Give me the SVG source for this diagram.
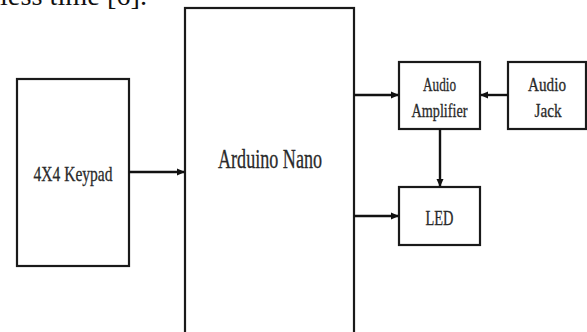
<svg xmlns="http://www.w3.org/2000/svg" width="587" height="332" viewBox="0 0 587 332">
<style>
.box{fill:#fff;stroke:#1a1a1a;stroke-width:2.2}
.lbl{font-family:"Liberation Serif","Times New Roman",serif;fill:#2a2a2a;stroke:#2a2a2a;stroke-width:0.3;text-anchor:middle}
.cn{stroke:#111;stroke-width:2.4;fill:none;marker-end:url(#ah)}
</style>
<defs>
<marker id="ah" viewBox="0 0 8 8" refX="7" refY="4" markerWidth="8" markerHeight="8" markerUnits="userSpaceOnUse" orient="auto">
<path d="M0,0.5 L8,4 L0,7.5 Z" fill="#111"/>
</marker>
</defs>
<rect width="587" height="332" fill="#fff"/>
<text x="0" y="5" font-family="Liberation Serif, Times New Roman, serif" font-size="28" fill="#111" textLength="147" lengthAdjust="spacingAndGlyphs">less time [6].</text>
<g id="keypad">
<rect class="box" x="17" y="79" width="112" height="187"/>
<text class="lbl" x="73" y="180.5" font-size="21.5" textLength="79" lengthAdjust="spacingAndGlyphs">4X4 Keypad</text>
</g>
<g id="arduino">
<rect class="box" x="185" y="8" width="169" height="340"/>
<text class="lbl" x="270" y="168" font-size="27" textLength="104" lengthAdjust="spacingAndGlyphs">Arduino Nano</text>
</g>
<g id="amplifier">
<rect class="box" x="399" y="62" width="81" height="67"/>
<text class="lbl" x="439.5" y="91" font-size="19" textLength="33" lengthAdjust="spacingAndGlyphs">Audio</text>
<text class="lbl" x="439.5" y="117" font-size="19" textLength="56" lengthAdjust="spacingAndGlyphs">Amplifier</text>
</g>
<g id="jack">
<rect class="box" x="508" y="62" width="78" height="67"/>
<text class="lbl" x="547" y="91" font-size="19" textLength="38" lengthAdjust="spacingAndGlyphs">Audio</text>
<text class="lbl" x="548" y="117" font-size="19" textLength="27" lengthAdjust="spacingAndGlyphs">Jack</text>
</g>
<g id="led">
<rect class="box" x="399" y="187" width="81" height="58"/>
<text class="lbl" x="439.5" y="225" font-size="21" textLength="28" lengthAdjust="spacingAndGlyphs">LED</text>
</g>
<g id="connectors">
<path class="cn" d="M129,172 H184"/>
<path class="cn" d="M354,95 H398"/>
<path class="cn" d="M354,216 H398"/>
<path class="cn" d="M508,95 H481"/>
<path class="cn" d="M440,129 V186"/>
</g>
</svg>
